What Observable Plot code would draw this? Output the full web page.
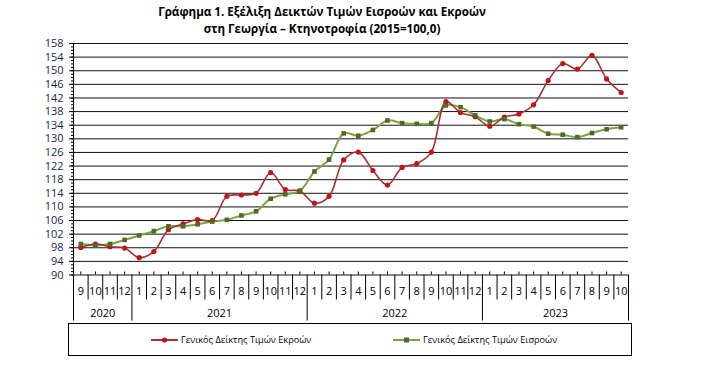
<!DOCTYPE html>
<html>
<head>
<meta charset="utf-8">
<script src="https://cdn.jsdelivr.net/npm/d3@7"></script>
<script src="https://cdn.jsdelivr.net/npm/@observablehq/plot@0.6"></script>
<style>
  html, body { margin: 0; padding: 0; background: #fff; }
  body { width: 711px; height: 366px; position: relative; overflow: hidden; font-family: "Open Sans", sans-serif; }
  #title { position: absolute; left: 0; top: 3px; width: 644px; text-align: center; font-weight: bold; font-size: 11.6px; line-height: 17px; color: #000; }
  #chart { position: absolute; left: 0; top: 36px; }
  #legend { position: absolute; left: 68px; top: 323px; width: 562px; height: 31px; border: 1px solid #000; font-size: 9.2px; color: #000; }
  .item { position: absolute; top: 9px; display: flex; align-items: center; white-space: nowrap; }
  .item svg { margin-right: 3px; }
</style>
</head>
<body>
<div id="title">Γράφημα 1. Εξέλιξη Δεικτών Τιμών Εισροών και Εκροών<br>στη Γεωργία – Κτηνοτροφία (2015=100,0)</div>
<div id="chart"></div>
<div id="legend">
  <div class="item" style="left:82px"><svg width="27" height="10"><line x1="0" x2="27" y1="5" y2="5" stroke="#a6302e" stroke-width="2"/><circle cx="13.5" cy="5" r="2.6" fill="#c0141a"/></svg>Γενικός Δείκτης Τιμών Εκροών</div>
  <div class="item" style="left:324px"><svg width="27" height="10"><line x1="0" x2="27" y1="5" y2="5" stroke="#7ea245" stroke-width="2"/><rect x="11" y="2.5" width="5" height="5" fill="#4f6a22"/></svg>Γενικός Δείκτης Τιμών Εισροών</div>
</div>
<script>
const monthLabels = ["9","10","11","12",
  "1","2","3","4","5","6","7","8","9","10","11","12",
  "1","2","3","4","5","6","7","8","9","10","11","12",
  "1","2","3","4","5","6","7","8","9","10"];
const yearLabels = ["2020","2021","2022","2023"];
const yearMonths = [4, 12, 12, 10];
const outputIndex = [98.1, 99.1, 98.3, 97.9,
  95.1, 96.9, 103.3, 105.0, 106.3, 106.0, 113.1, 113.5, 114.0, 120.1, 115.1, 114.7,
  111.1, 113.1, 123.8, 126.1, 120.7, 116.4, 121.6, 122.7, 126.1, 140.9, 137.7, 136.5,
  133.7, 136.4, 137.3, 140.0, 147.1, 152.1, 150.5, 154.5, 147.6, 143.6];
const inputIndex = [99.1, 98.7, 99.1, 100.3,
  101.6, 102.9, 104.3, 104.3, 104.9, 105.7, 106.2, 107.5, 108.7, 112.4, 113.7, 114.7,
  120.4, 123.9, 131.6, 130.9, 132.6, 135.4, 134.6, 134.4, 134.6, 139.8, 139.3, 136.9,
  135.1, 135.8, 134.3, 133.6, 131.5, 131.2, 130.5, 131.7, 132.8, 133.4];
const yTicks = d3.range(90, 159, 4);

const n = monthLabels.length;
const idx = d3.range(n);
const outData = idx.map(i => ({i, v: outputIndex[i]}));
const inData = idx.map(i => ({i, v: inputIndex[i]}));

// year groups
let start = 0;
const yearData = yearLabels.map((y, k) => {
  const s = start, e = start + yearMonths[k] - 1;
  start += yearMonths[k];
  return {label: y, x: (s + e) / 2, s, e};
});
const yearBounds = new Set(yearData.map(d => d.s - 0.5).concat(yearData.map(d => d.e + 0.5)));
const bounds = d3.range(n + 1).map(k => k - 0.5);
const shortBounds = bounds.filter(b => !yearBounds.has(b));
const longBounds = bounds.filter(b => yearBounds.has(b));

const labelColor = "#1c1f45";

const chart = Plot.plot({
  width: 711,
  height: 286,
  marginTop: 7,
  marginBottom: 47.5,
  marginLeft: 73,
  marginRight: 83,
  style: {fontFamily: "'Open Sans', sans-serif", fontSize: "11px", background: "#fff"},
  x: {domain: [-0.5, n - 0.5], axis: null},
  y: {domain: [90, 158], axis: null},
  marks: [
    Plot.gridY(yTicks, {stroke: "#111", strokeOpacity: 1, strokeWidth: 1}),
    Plot.axisY(d3.range(90, 159, 1), {tickSize: 2, tickFormat: () => "", stroke: "#000", label: null}),
    Plot.axisY(yTicks, {tickSize: 4, tickPadding: 6, fontSize: 11, color: labelColor, stroke: "#000", label: null}),
    Plot.ruleX([-0.5], {stroke: "#000"}),
    // x-axis table
    Plot.ruleX(idx, {x: d => d, y1: 90, y2: 90, insetTop: -3, stroke: "#000"}),
    Plot.ruleX(shortBounds, {x: d => d, y1: 90, y2: 90, insetBottom: -25, stroke: "#000"}),
    Plot.ruleX(longBounds, {x: d => d, y1: 90, y2: 90, insetBottom: -46, stroke: "#000"}),
    Plot.text(monthLabels, {x: (d, i) => i, y: 90, dy: 16, text: d => d, fontSize: 11, fill: "#000"}),
    Plot.text(yearData, {x: "x", y: 90, dy: 38, text: "label", fontSize: 11, fill: "#000"}),
    // series
    Plot.line(inData, {x: "i", y: "v", stroke: "#7ea245", strokeWidth: 2, curve: "catmull-rom"}),
    Plot.line(outData, {x: "i", y: "v", stroke: "#a6302e", strokeWidth: 1.6, curve: "catmull-rom"}),
    Plot.dot(outData, {x: "i", y: "v", r: 2.6, fill: "#c0141a", stroke: "none"}),
    Plot.dot(inData, {x: "i", y: "v", r: 2.6, symbol: "square", fill: "#4f6a22", stroke: "none"})
  ]
});
document.getElementById("chart").appendChild(chart);
</script>
</body>
</html>
